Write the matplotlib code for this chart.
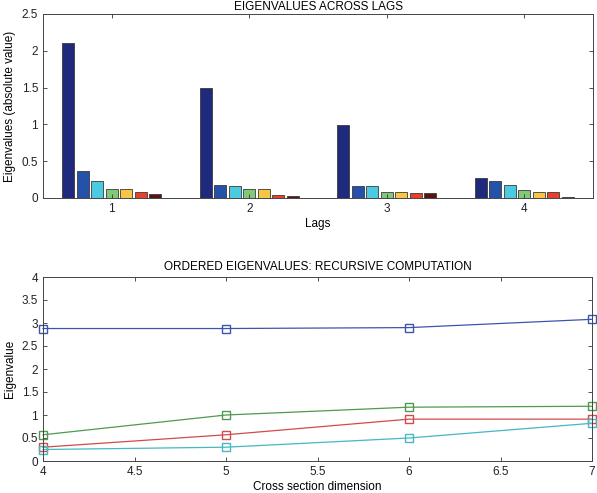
import numpy as np
import matplotlib
matplotlib.use("Agg")
import matplotlib.pyplot as plt

plt.rcParams['font.family'] = ['Liberation Sans', 'DejaVu Sans']

# top panel: eigenvalues (absolute value) for each lag, 7 per lag
lags = [1, 2, 3, 4]
eig_lag = [
    [2.10, 0.37, 0.23, 0.12, 0.12, 0.08, 0.05],
    [1.50, 0.17, 0.16, 0.12, 0.12, 0.04, 0.03],
    [0.99, 0.16, 0.16, 0.08, 0.08, 0.07, 0.07],
    [0.27, 0.23, 0.17, 0.11, 0.08, 0.08, 0.01],
]
bar_colors = ['#1f2a7c', '#2452a8', '#4ccae2', '#82c878', '#f6c644', '#e8402a', '#5c1212']

# bottom panel: ordered eigenvalues vs cross section dimension
dims = [4, 5, 6, 7]
ev1 = [2.88, 2.88, 2.90, 3.08]
ev2 = [0.57, 1.00, 1.17, 1.19]
ev3 = [0.30, 0.57, 0.91, 0.91]
ev4 = [0.25, 0.30, 0.50, 0.82]
line_colors = ['#3a55b0', '#4f9a50', '#d24a4a', '#45b8c2']

fig = plt.figure(figsize=(5.97, 4.93), dpi=100)
ax1 = fig.add_axes([43/597, 1 - 198/493, 550/597, 184/493])
ax2 = fig.add_axes([43/597, 1 - 461/493, 549/597, 184/493])

fs = 8.5
n = len(eig_lag[0])
spacing = 0.105
for k in range(n):
    vals = [row[k] for row in eig_lag]
    xs = np.array(lags) + (k - (n - 1) / 2) * spacing
    ax1.bar(xs, vals, width=0.088, color=bar_colors[k], edgecolor='#3a3a3a', linewidth=0.6)

ax1.set_xlim(0.5, 4.5)
ax1.set_ylim(0, 2.5)
ax1.set_xticks(lags)
ax1.set_yticks(np.arange(0, 2.51, 0.5))
ax1.set_yticklabels(['0', '0.5', '1', '1.5', '2', '2.5'])
ax1.set_xlabel('Lags', fontsize=fs, labelpad=2)
ax1.set_ylabel('Eigenvalues (absolute value)', fontsize=fs, labelpad=4)
ax1.set_title('EIGENVALUES ACROSS LAGS', fontsize=fs, pad=3)

for ev, c in zip([ev1, ev2, ev3, ev4], line_colors):
    ax2.plot(dims, ev, color=c, marker='s', markerfacecolor='none',
             markeredgecolor=c, markersize=5.5, linewidth=0.9, clip_on=False)

ax2.set_xlim(4, 7)
ax2.set_ylim(0, 4)
ax2.set_xticks(np.arange(4, 7.01, 0.5))
ax2.set_xticklabels(['4', '4.5', '5', '5.5', '6', '6.5', '7'])
ax2.set_yticks(np.arange(0, 4.01, 0.5))
ax2.set_yticklabels(['0', '0.5', '1', '1.5', '2', '2.5', '3', '3.5', '4'])
ax2.set_xlabel('Cross section dimension', fontsize=fs, labelpad=2)
ax2.set_ylabel('Eigenvalue', fontsize=fs, labelpad=4)
ax2.set_title('ORDERED EIGENVALUES: RECURSIVE COMPUTATION', fontsize=fs, pad=5)

for ax in (ax1, ax2):
    ax.tick_params(direction='in', top=True, right=True, labelsize=fs,
                   length=3, width=0.6, colors='#333333', labelcolor='#222222')
    for s in ax.spines.values():
        s.set_linewidth(0.7)
        s.set_color('#444444')

fig.savefig('out.png', dpi=100)
